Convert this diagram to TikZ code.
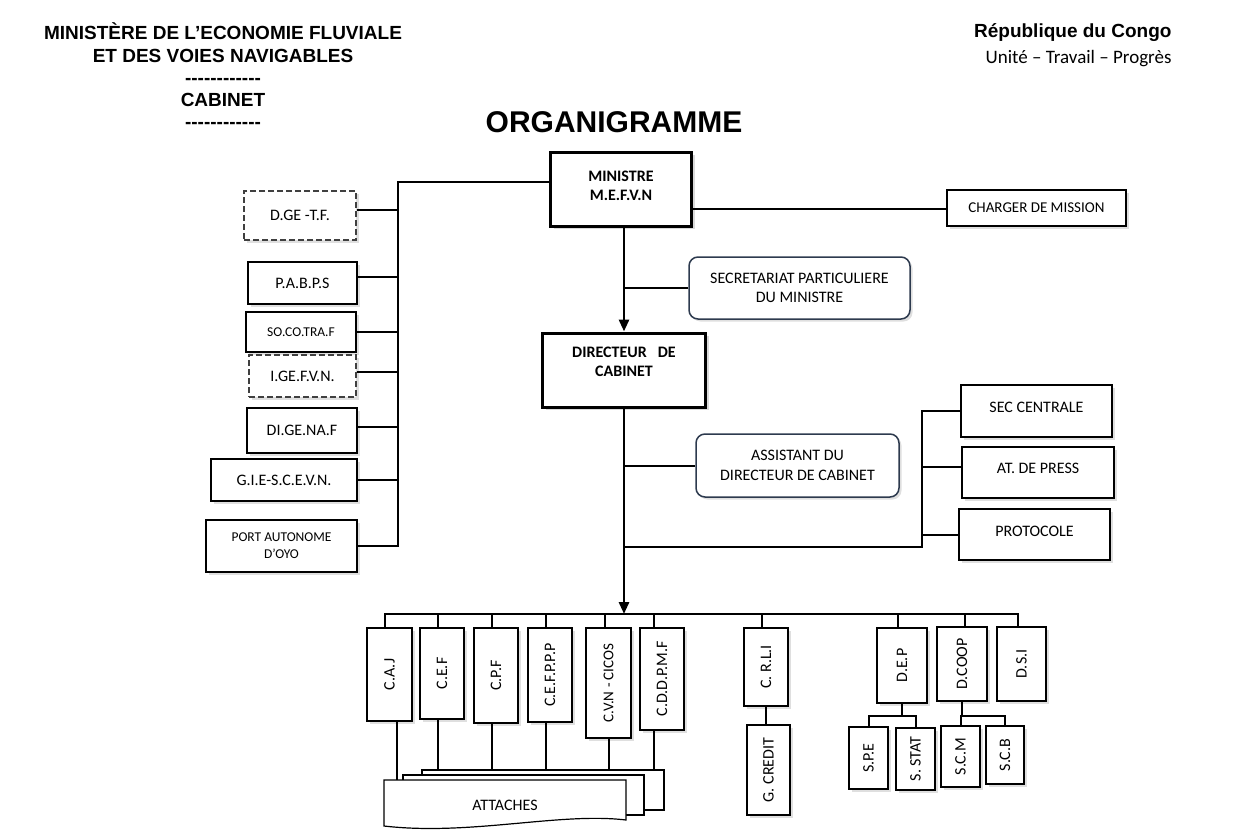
\documentclass[tikz,border=0pt]{standalone}
\usepackage{fontspec}
\usepackage{graphicx}
\setmainfont{Carlito}
\newfontfamily\hdrfont{Liberation Sans}
\usetikzlibrary{arrows.meta,shadows}
\definecolor{roundline}{RGB}{45,58,78}

\tikzset{
  base/.style={draw,fill=white,align=center,inner sep=2pt,
    font=\fontsize{16}{19.5}\selectfont},
  unit/.style={base,line width=1.2pt,
    drop shadow={shadow xshift=2.5pt,shadow yshift=-2.5pt,opacity=.25}},
  headbox/.style={base,line width=3pt,font=\bfseries\fontsize{16}{19}\selectfont,
    drop shadow={shadow xshift=3pt,shadow yshift=-3pt,opacity=.3}},
  dashbox/.style={unit,draw=black!75,dash pattern=on 6pt off 3pt},
  softbox/.style={unit,draw=roundline,rounded corners=9pt,line width=1.5pt},
  small/.style={font=\fontsize{13.5}{17}\selectfont},
  sz/.style 2 args={minimum width=#1pt,minimum height=#2pt},
  link/.style={line width=2pt},
  spine/.style={line width=2.8pt},
  head/.style={hdrfont,anchor=base},
  hdrfont/.style={font=\hdrfont\bfseries\fontsize{19}{23}\selectfont}
}

\begin{document}
\begin{tikzpicture}[x=1pt,y=-1pt]
    \useasboundingbox (0,0) rectangle (1242,838);

    % en-tete
    \node[head] (hda) at (223,39) {MINISTÈRE DE L’ECONOMIE FLUVIALE};
    \node[head] (hdb) at (223,62) {ET DES VOIES NAVIGABLES};
    \node[head] (hdc) at (223,84) {-{}-{}-{}-{}-{}-{}-{}-{}-{}-{}-{}-};
    \node[head] (hdd) at (223,106) {CABINET};
    \node[head] (hde) at (223,128) {-{}-{}-{}-{}-{}-{}-{}-{}-{}-{}-{}-};
    \node[hdrfont,anchor=base east] (rep) at (1175,37) {République du Congo};
    \node[anchor=base east,font=\fontsize{19}{23}\selectfont] (devise) at (1175,63) {Unité – Travail – Progrès};
    \node[anchor=base,font=\hdrfont\bfseries\fontsize{30}{36}\selectfont] (titre) at (614,132) {ORGANIGRAMME};

    % direction
    \node[headbox,sz={141}{74},text depth=7pt] (min) at (621,189) {MINISTRE\\M.E.F.V.N};
    \node[headbox,sz={163}{74},text depth=16pt] (dir) at (624,370) {DIRECTEUR\hspace{11pt}DE\\CABINET};
    \node[softbox,sz={221}{62}] (secp) at (799.5,288) {SECRETARIAT PARTICULIERE\\DU MINISTRE};
    \node[softbox,sz={203}{63}] (assist) at (797.5,465.5) {ASSISTANT DU\\DIRECTEUR DE CABINET};
    \node[unit,sz={179}{36},font=\fontsize{15}{18}\selectfont] (charger) at (1036.5,208) {CHARGER DE MISSION};
    \node[unit,sz={151}{52},text depth=8pt] (sec) at (1036.5,411) {SEC CENTRALE};
    \node[unit,sz={152}{51},text depth=8pt] (atp) at (1038,472.5) {AT. DE PRESS};
    \node[unit,sz={151}{51},text depth=7pt] (prot) at (1034.5,534.5) {PROTOCOLE};

    % organismes sous tutelle
    \node[dashbox,sz={112}{49}] (dge) at (300,215.5) {D.GE -T.F.};
    \node[unit,sz={109}{42}] (pabps) at (302.5,283) {P.A.B.P.S};
    \node[unit,small,sz={110}{40}] (socotraf) at (301,332) {SO.CO.TRA.F};
    \node[dashbox,sz={107}{42}] (igefvn) at (302.5,376) {I.GE.F.V.N.};
    \node[unit,sz={110}{45}] (digenaf) at (302,430.5) {DI.GE.NA.F};
    \node[unit,sz={146}{42}] (gie) at (284,480) {G.I.E-S.C.E.V.N.};
    \node[unit,small,sz={151}{52}] (port) at (281.5,546) {PORT AUTONOME\\D’OYO};

    % conseillers et directions
    \node[unit,sz={45}{93}] (caj) at (389.5,674.5) {\rotatebox{90}{C.A.J}};
    \node[unit,sz={44}{91}] (cef) at (442,673.5) {\rotatebox{90}{C.E.F}};
    \node[unit,sz={44}{95}] (cpf) at (496,675.5) {\rotatebox{90}{C.P.F}};
    \node[unit,sz={44}{94}] (cefppp) at (550,675) {\rotatebox{90}{C.E.F.P.P.P}};
    \node[unit,sz={45}{110},font=\fontsize{15}{18}\selectfont] (cvn) at (608.5,683) {\rotatebox{90}{C.V.N - CICOS}};
    \node[unit,sz={44}{102}] (cddpmf) at (662,679) {\rotatebox{90}{C.D.D.P.M.F}};
    \node[unit,sz={44}{78}] (crli) at (766,667) {\rotatebox{90}{C. R.L.I}};
    \node[unit,sz={43}{90}] (gcredit) at (768.5,770) {\rotatebox{90}{G. CREDIT}};
    \node[unit,sz={50}{75}] (dep) at (902,665.5) {\rotatebox{90}{D.E.P}};
    \node[unit,sz={50}{74}] (dcoop) at (962,664) {\rotatebox{90}{D.COOP}};
    \node[unit,sz={49}{74}] (dsi) at (1021.5,664) {\rotatebox{90}{D.S.I}};
    \node[unit,sz={39}{62}] (spe) at (868.5,758) {\rotatebox{90}{S.P.E}};
    \node[unit,sz={39}{62}] (sstat) at (915.5,759) {\rotatebox{90}{S. STAT}};
    \node[unit,sz={39}{61}] (scm) at (960.5,756.5) {\rotatebox{90}{S.C.M}};
    \node[unit,sz={38}{58}] (scb) at (1005,755) {\rotatebox{90}{S.C.B}};

    \coordinate (lbus) at ([xshift=40pt]port.east);
    \coordinate (rbus) at (922,547);
    \coordinate (bus) at (624,614);

    % liaisons
    \draw[link] ([yshift=7pt]min.west) -| (lbus) -- (port.east);
    \foreach \n/\dy in {dge/6,pabps/6,socotraf/0,igefvn/4,digenaf/4,gie/0}
        \draw[link] ([yshift=\dy pt]\n.east) -- ([yshift=\dy pt]\n.east -| lbus);
    \draw[link] ([yshift=-20pt]min.east) -- ([yshift=-20pt]min.east -| charger.west);
    \draw[spine,-{Triangle[length=12pt,width=10pt]}] (dir.north |- min.south) -- (dir.north);
    \draw[link] (secp.west) -- (secp.west -| dir.north);
    \draw[link] (assist.west) -- (assist.west -| dir.south);
    \draw[link] (sec.west) -| (rbus) -- (rbus -| dir.south);
    \draw[link] ([yshift=6pt]atp.west) -- ([yshift=6pt]atp.west -| rbus);
    \draw[link] (prot.west) -- (prot.west -| rbus);
    \draw[spine,-{Triangle[length=12pt,width=10pt]}] (dir.south) -- (bus);

    \draw[link] ([xshift=-4.5pt]caj.north) |- ([xshift=-3.5pt]dsi.north |- bus) -- ([xshift=-3.5pt]dsi.north);
    \foreach \n/\dx in {cef/-4,cpf/-4,cefppp/-4,cvn/-3.5,cddpmf/-8,crli/-4,dep/-4,dcoop/3}
        \draw[link] ([xshift=\dx pt]\n.north) -- ([xshift=\dx pt]\n.north |- bus);
    \draw[link] (crli.south) -- (crli.south |- gcredit.north);
    \draw[link] (dep.south) -- ++(0,12) coordinate (depj);
    \draw[link] (spe.north) |- (depj) -| (sstat.north);
    \draw[link] (dcoop.south) -- ++(0,14) coordinate (coopj);
    \draw[link] (scm.north) |- (coopj) -| (scb.north);

    % attaches
    \foreach \n/\dx in {caj/7.5,cef/-4,cpf/-4,cefppp/-4,cvn/0,cddpmf/-8}
        \draw[link] ([xshift=\dx pt]\n.south) -- ++(0,60);
    \filldraw[fill=white,line width=1.2pt] (422,770) rectangle (664,810);
    \filldraw[fill=white,line width=1.2pt] (403,775) rectangle (644,815);
    \filldraw[fill=white,line width=1.2pt] (384,780) -- (626,780) -- (626,820)
        .. controls (560,812) and (470,836) .. (384,826) -- cycle;
    \node[font=\fontsize{16}{19.5}\selectfont] (att) at (505,805) {ATTACHES};
\end{tikzpicture}
\end{document}
